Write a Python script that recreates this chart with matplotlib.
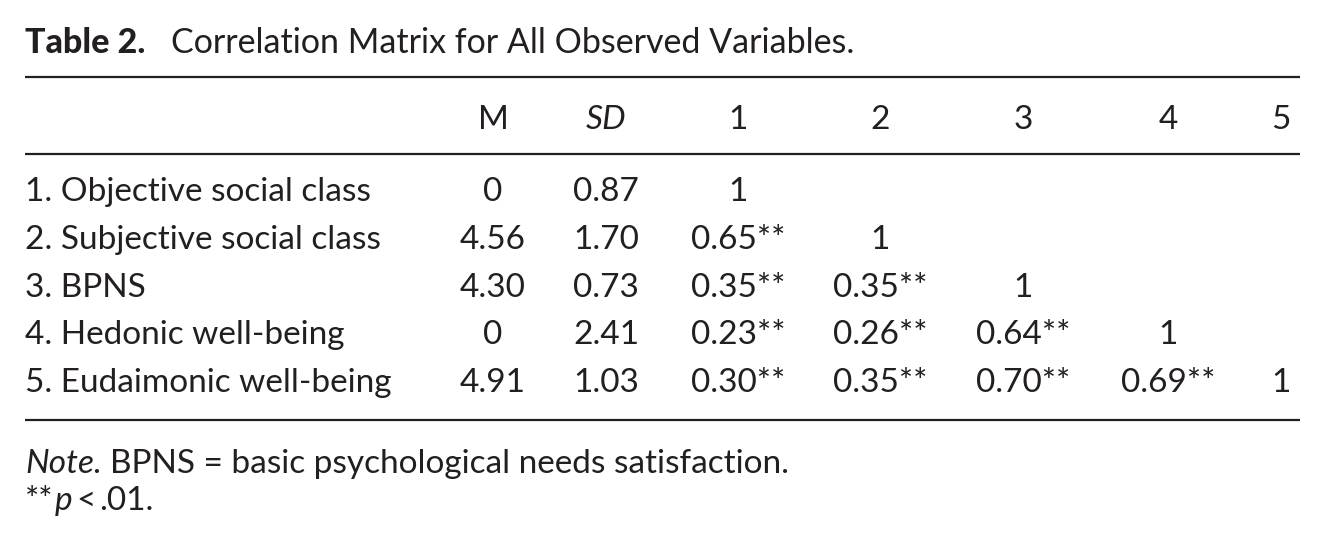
import matplotlib.pyplot as plt

# Table content
title_bold = "Table 2."
title_rest = "Correlation Matrix for All Observed Variables."
row_labels = ["1. Objective social class", "2. Subjective social class", "3. BPNS",
              "4. Hedonic well-being", "5. Eudaimonic well-being"]
means = ["0", "4.56", "4.30", "0", "4.91"]
sds = ["0.87", "1.70", "0.73", "2.41", "1.03"]
corr_headers = ["1", "2", "3", "4", "5"]
corr = [
    ["1"],
    ["0.65**", "1"],
    ["0.35**", "0.35**", "1"],
    ["0.23**", "0.26**", "0.64**", "1"],
    ["0.30**", "0.35**", "0.70**", "0.69**", "1"],
]
note_label = "Note."
note_text = "BPNS = basic psychological needs satisfaction."

ink = "#231f20"
fs = 24
plt.rcParams['font.family'] = ['Lato', 'DejaVu Sans']

fig = plt.figure(figsize=(13.26, 5.44), dpi=100)
ax = fig.add_axes([0, 0, 1, 1])
ax.set_xlim(0, 1326)
ax.set_ylim(544, 0)
ax.axis('off')
fig.canvas.draw()
renderer = fig.canvas.get_renderer()


def chain(x, y, pieces, size=fs):
    # draw text pieces one after the other on a baseline
    for txt, style, gap in pieces:
        t = ax.text(x, y, txt, fontsize=size, color=ink, va='baseline', ha='left', **style)
        bb = t.get_window_extent(renderer)
        x = x + bb.width + gap


chain(25, 53, [(title_bold, {'fontweight': 'black'}, 26), (title_rest, {}, 0)], size=24.5)

# rules
for yy in [77, 154, 420]:
    ax.plot([25, 1300], [yy, yy], color=ink, lw=1.6, solid_capstyle='butt')

x_m, x_sd = 493, 606
x_corr = [738, 880, 1023, 1168, 1281]
y_head = 129
y_rows = [201, 249, 297, 344, 392]

ax.text(x_m, y_head, "M", fontsize=fs, color=ink, ha='center', va='baseline')
ax.text(x_sd, y_head, "SD", fontsize=fs, color=ink, ha='center', va='baseline', style='italic')
for xc, h in zip(x_corr, corr_headers):
    ax.text(xc, y_head, h, fontsize=fs, color=ink, ha='center', va='baseline')

for i, y in enumerate(y_rows):
    ax.text(25, y, row_labels[i], fontsize=fs, color=ink, ha='left', va='baseline')
    ax.text(x_m, y, means[i], fontsize=fs, color=ink, ha='center', va='baseline')
    ax.text(x_sd, y, sds[i], fontsize=fs, color=ink, ha='center', va='baseline')
    for j, v in enumerate(corr[i]):
        ax.text(x_corr[j], y, v, fontsize=fs, color=ink, ha='center', va='baseline')

chain(25, 473, [(note_label, {'style': 'italic'}, 8), (note_text, {}, 0)])
chain(25, 510, [("**", {}, 1), ("p", {'style': 'italic'}, 4), ("<", {}, 4), (".01.", {}, 0)])

fig.savefig("out.png", dpi=100)
